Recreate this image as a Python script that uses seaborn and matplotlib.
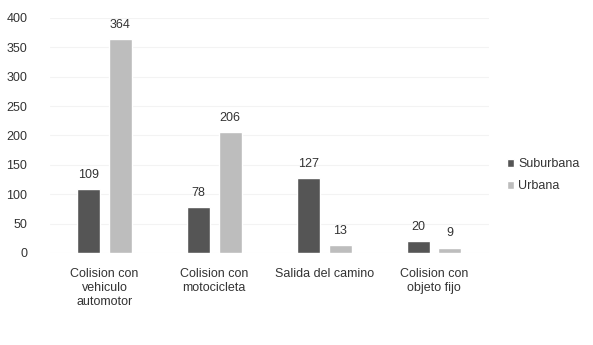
import pandas as pd
import matplotlib
matplotlib.use("Agg")
import matplotlib.pyplot as plt
import seaborn as sns

# Chart data
categories = ["Colision con\nvehiculo\nautomotor", "Colision con\nmotocicleta",
              "Salida del camino", "Colision con\nobjeto fijo"]
suburbana = [109, 78, 127, 20]
urbana = [364, 206, 13, 9]
series_names = ["Suburbana", "Urbana"]
colors = ["#555555", "#bdbdbd"]

df = pd.DataFrame({
    "categoria": categories * 2,
    "valor": suburbana + urbana,
    "zona": [series_names[0]] * len(categories) + [series_names[1]] * len(categories),
})

sns.set_theme(style="white")
plt.rcParams["font.family"] = ["Liberation Sans", "DejaVu Sans"]

fig = plt.figure(figsize=(5.93, 3.45), dpi=100)
ax = fig.add_axes([0.0835, 0.267, 0.741, 0.681])

sns.barplot(data=df, x="categoria", y="valor", hue="zona", palette=colors,
            width=0.582, gap=0.28, ax=ax, saturation=1, legend=True)

for container in ax.containers:
    ax.bar_label(container, padding=6, fontsize=9, color="#333333")

ax.set_ylim(0, 400)
ax.set_yticks(range(0, 401, 50))
ax.yaxis.grid(True, color="#f3f3f3", linewidth=0.8)
ax.set_axisbelow(True)
ax.set_xlabel("")
ax.set_ylabel("")
ax.tick_params(axis="both", length=0, labelsize=9, colors="#333333")
ax.tick_params(axis="y", pad=16)
ax.tick_params(axis="x", pad=11)
for s in ax.spines.values():
    s.set_visible(False)

handles, labels = ax.get_legend_handles_labels()
ax.legend(handles, labels, loc="center left", bbox_to_anchor=(1.015, 0.33),
          frameon=False, fontsize=9, handlelength=0.6, handleheight=0.6,
          handletextpad=0.3, labelspacing=0.8, labelcolor="#333333")

fig.savefig("out.png", dpi=100)
